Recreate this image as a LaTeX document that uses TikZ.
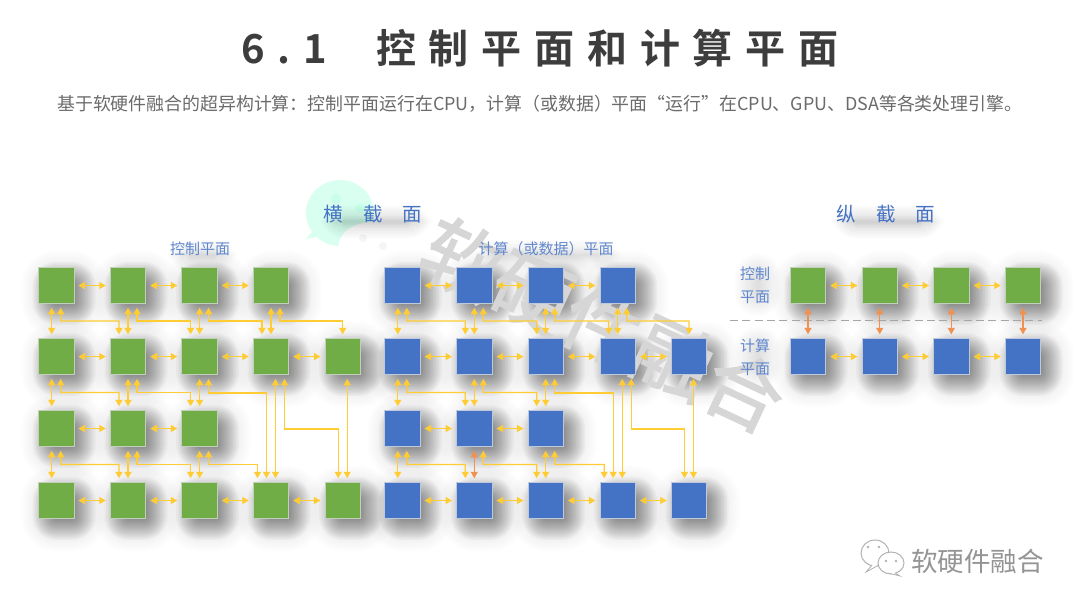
\documentclass[tikz,border=0pt]{standalone}
\usepackage{fontspec}
\setmainfont{Noto Sans CJK SC}
\newfontfamily\titlefont[BoldFont={Noto Sans CJK SC Bold},LetterSpace=32]{Noto Sans CJK SC}
\newfontfamily\wmfont[FakeBold=2]{Noto Sans CJK SC}
\usetikzlibrary{arrows.meta,calc}
\definecolor{cblue}{HTML}{4472C4}
\definecolor{cgreen}{HTML}{70AD47}
\definecolor{cyel}{HTML}{FFC000}
\definecolor{corg}{HTML}{ED7D31}
\tikzset{
  sq/.style={draw=#1,line width=0.9pt,minimum size=35.5pt,inner sep=0pt,outer sep=0pt,rectangle},
  gsq/.style={sq=gray!55!cgreen!45!white,fill=cgreen},
  bsq/.style={sq=gray!40!cblue!40!white,fill=cblue},
  lnk/.style={cyel!80!white,line width=1.35pt,{Triangle[length=6.5pt,width=7pt]}-{Triangle[length=6.5pt,width=7pt]},shorten >=4.5pt,shorten <=4.5pt},
  olnk/.style={lnk,corg!85!white},
  lbl/.style={text=cblue!85!white,font=\fontsize{15}{15}\selectfont,inner sep=0pt},
  sec/.style={text=cblue,font=\fontsize{19.5}{20}\selectfont,inner sep=0pt},
}
% soft shadow of a box given by its centre and half sizes
\newcommand{\softbox}[5]{%
  \foreach \r in {-9,-7.5,...,13.5}{%
    \fill[black,opacity=#5,rounded corners=\r pt+10pt]
      (#1-#3-\r,#2-#4-\r) rectangle (#1+#3+\r,#2+#4+\r);
  }}
\newcommand{\sqshadow}[2]{%
  \softbox{#1+8}{#2+8}{18}{18}{0.032}%
  \foreach \r in {15,17,...,25}{%
    \fill[black,opacity=0.007,rounded corners=\r pt+10pt]
      (#1+8-18-\r,#2+8-18-\r) rectangle (#1+8+18+\r,#2+8+18+\r);
  }}
% column centres and row centres
\def\Ra{285.5}\def\Rb{356.6}\def\Rc{428.5}\def\Rd{500.5}
\begin{document}
\begin{tikzpicture}[x=1pt,y=-1pt]
\useasboundingbox (0,0) rectangle (1080,608);
\fill[white] (0,0) rectangle (1080,608);

% green WeChat-style bubble behind the section title
\fill[green!40!cyan!15!white] (340,213) ellipse (34 and 33);
\fill[green!40!cyan!15!white] (312,232) -- (306,239) -- (322,236) -- cycle;
\fill[green!40!cyan!15!white] (320,236) -- (338,246) -- (345,236) -- cycle;
\fill[green!40!cyan!22!white] (336,199) circle (5);
\fill[green!40!cyan!22!white] (360,208) circle (5);
\fill[white] (372,248) ellipse (34 and 26);
\fill[black!4] (363,238) circle (4);
\fill[black!4] (383,246) circle (4);

% shadows
\foreach \x/\y in {
  56.2/\Ra,128/\Ra,199.6/\Ra,271/\Ra,
  56.2/\Rb,128/\Rb,199.6/\Rb,271/\Rb,342.7/\Rb,
  56.2/\Rc,128/\Rc,199.6/\Rc,
  56.2/\Rd,128/\Rd,199.6/\Rd,271/\Rd,342.7/\Rd,
  402.3/\Ra,474.3/\Ra,545.7/\Ra,617.7/\Ra,
  402.3/\Rb,474.3/\Rb,545.7/\Rb,617.7/\Rb,689/\Rb,
  402.3/\Rc,474.3/\Rc,545.7/\Rc,
  402.3/\Rd,474.3/\Rd,545.7/\Rd,617.7/\Rd,689/\Rd,
  808/\Ra,879.7/\Ra,951.3/\Ra,1023/\Ra,
  808/\Rb,879.7/\Rb,951.3/\Rb,1023/\Rb}{\sqshadow{\x}{\y}}
\softbox{376}{222}{42}{3}{0.012}
\softbox{888}{222}{42}{3}{0.012}
\softbox{202}{255}{22}{2}{0.009}
\softbox{548}{255}{60}{2}{0.009}
\softbox{758}{285}{10}{18}{0.008}
\softbox{758}{358}{10}{18}{0.008}

% watermark
\node[name=wm,inner sep=0pt,rotate=-25,text=black!16,font=\wmfont\fontsize{78}{78}\selectfont] at (603,325) {软硬件融合};

% title
\node[name=ttl,inner sep=0pt,anchor=west,text=black!76,font=\titlefont\bfseries\fontsize{40}{40}\selectfont] at (241,48) {6.1\hspace{49pt}控制平面和计算平面};
\node[name=sub,inner sep=0pt,anchor=west,text=black!58,font=\fontsize{17.9}{18}\selectfont] at (57,104) {基于软硬件融合的超异构计算：控制平面运行在CPU，计算（或数据）平面“运行”在CPU、GPU、DSA等各类处理引擎。};

% section labels
\node[sec,name=s1] at (373,214) {横\hspace{20pt}截\hspace{20pt}面};
\node[sec,name=s2] at (886,214) {纵\hspace{20pt}截\hspace{20pt}面};
\node[lbl,name=l1] at (200,249) {控制平面};
\node[lbl,name=l2] at (546,249) {计算（或数据）平面};
\node[lbl,name=l3] at (755,274) {控制};
\node[lbl,name=l4] at (755,297) {平面};
\node[lbl,name=l5] at (755,346) {计算};
\node[lbl,name=l6] at (755,369) {平面};

% grids: green g, blue b, right section u (top) / v (bottom)
\foreach \p/\st/\cols in {g/gsq/{56.2,128,199.6,271,342.7},b/bsq/{402.3,474.3,545.7,617.7,689}}{
  \foreach \cx [count=\c] in \cols {
    \foreach \r/\ry in {1/\Ra,2/\Rb,3/\Rc,4/\Rd}{
      \ifnum\c=4 \ifnum\r=3 \else \node[\st,name=\p\r\c] at (\cx,\ry) {}; \fi
      \else\ifnum\c=5
        \ifnum\r=1 \else\ifnum\r=3 \else \node[\st,name=\p\r\c] at (\cx,\ry) {}; \fi\fi
      \else \node[\st,name=\p\r\c] at (\cx,\ry) {}; \fi\fi
    }
  }
}
\foreach \cx [count=\c] in {808,879.7,951.3,1023}{
  \node[gsq,name=u\c] at (\cx,\Ra) {};
  \node[bsq,name=v\c] at (\cx,\Rb) {};
}

% dashed separator
\coordinate (dl) at (730,320.7);
\coordinate (dr) at (1042,320.7);
\draw[black!35,line width=1.4pt,dash pattern=on 8pt off 4.3pt] (dl) -- (dr);

% connectors
\foreach \p in {g,b}{
  % horizontal
  \foreach \a/\b in {11/12,12/13,13/14,21/22,22/23,23/24,24/25,31/32,32/33,41/42,42/43,43/44,44/45}{
    \draw[lnk] (\p\a.east) -- (\p\b.west);
  }
  % straight verticals at the centre of the column
  \foreach \a/\b in {12/22,13/23,14/24,22/32,23/33,33/43}{
    \draw[lnk] (\p\a.south) -- (\p\b.north);
  }
  % column 1 verticals, offset to the left
  \foreach \a/\b in {11/21,21/31,31/41}{
    \draw[lnk] ($(\p\a.south)+(-4.5,0)$) -- ($(\p\b.north)+(-4.5,0)$);
  }
  % elbows: source offset, target offset
  \foreach \a/\b/\sx/\tx in {11/22/4.5/-9,12/23/9/-9,13/24/9/-9,14/25/9/0,
                             21/32/4.5/-9,22/33/9/-9,
                             31/42/4.5/-9,32/43/9/-9,33/44/9/-13.5}{
    \path ($(\p\a.south)+(\sx,0)$) coordinate (s) ($(\p\b.north)+(\tx,0)$) coordinate (t);
    \draw[lnk] (s) -- ($(s)!0.5!(s|-t)$) -| (t);
  }
  % long links towards the bottom row
  \path ($(\p23.south)+(9,0)$) coordinate (s) ($(\p44.north)+(-4.5,0)$) coordinate (t);
  \draw[lnk] (s) |- ($(t)+(0,-89.7)$) -- (t);
  \draw[lnk] ($(\p24.south)+(4.5,0)$) -- ($(\p44.north)+(4.5,0)$);
  \path ($(\p24.south)+(13.5,0)$) coordinate (s) ($(\p45.north)+(-4.5,0)$) coordinate (t);
  \draw[lnk] (s) |- ($(t)+(0,-53.7)$) -- (t);
  \draw[lnk] ($(\p25.south)+(4.5,0)$) -- ($(\p45.north)+(4.5,0)$);
}
% the single orange link of the blue grid, and the plain one in the green grid
\draw[lnk] (g32.south) -- (g42.north);
\draw[olnk] (b32.south) -- (b42.north);

% right section
\foreach \a/\b in {1/2,2/3,3/4}{
  \draw[lnk] (u\a.east) -- (u\b.west);
  \draw[lnk] (v\a.east) -- (v\b.west);
}
\foreach \a in {1,2,3,4}{ \draw[olnk] (u\a.south) -- (v\a.north); }

% logo
\foreach \cx/\cy/\rx/\ry/\tx/\ty in {875/553/14/13/866/572,891/563/13/11/900/576}{
  \path[draw=black!30,fill=white,line width=1pt] (\cx,\cy) ellipse (\rx pt and \ry pt);
  \path[draw=black!30,fill=white,line width=0.8pt] ($(\cx,\cy)+(-3,\ry-1)$) -- (\tx,\ty) -- ($(\cx,\cy)+(4,\ry-1)$);
}
\fill[black!30] (868,547) circle (1.3) (879,547) circle (1.3) (886,561) circle (1.3) (896,561) circle (1.3);
\node[name=logo,inner sep=0pt,anchor=west,text=black!42,font=\fontsize{26.5}{27}\selectfont] at (911,561) {软硬件融合};
\end{tikzpicture}
\end{document}
